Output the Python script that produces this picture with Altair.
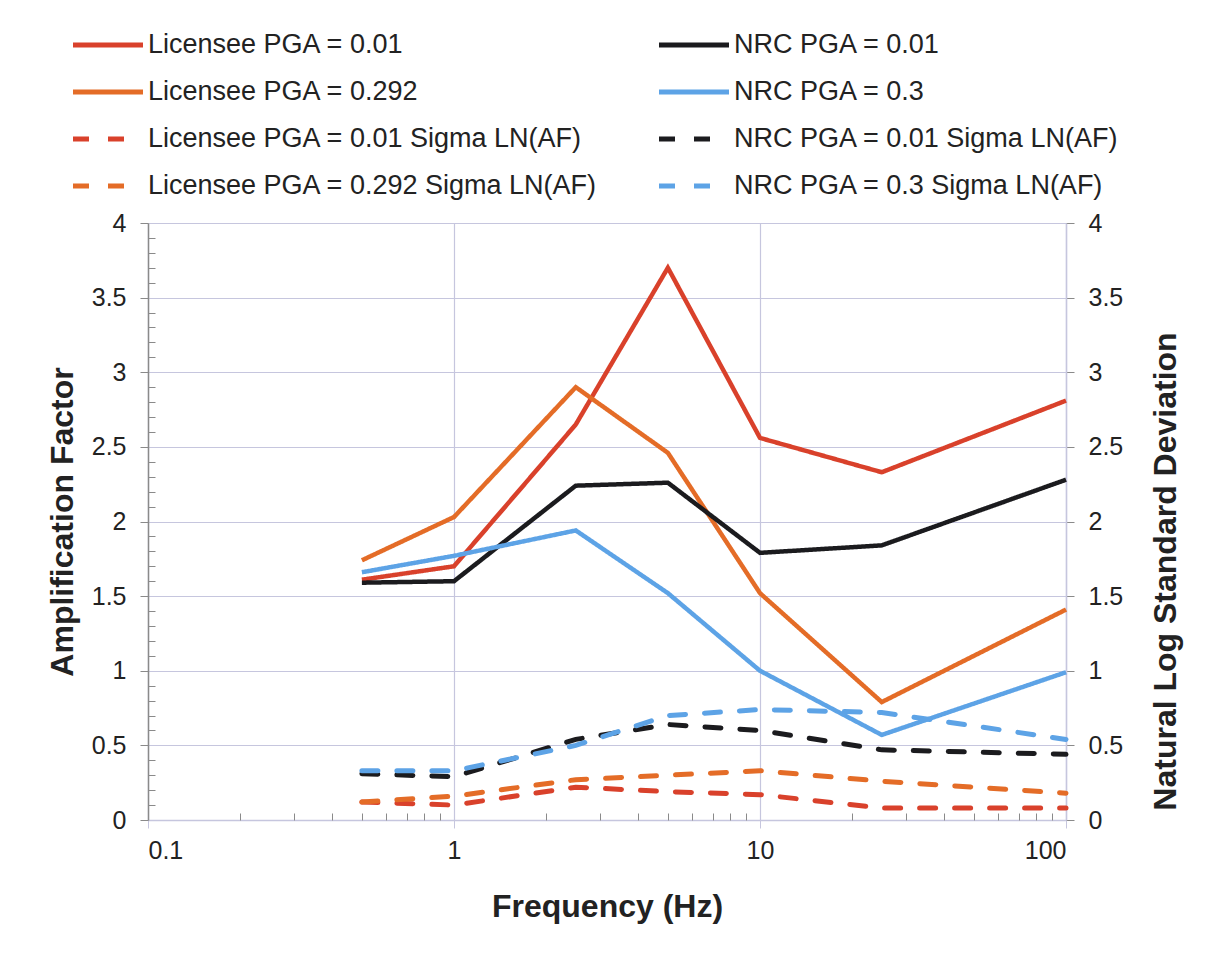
import altair as alt
import pandas as pd

freq = [0.5, 1, 2.5, 5, 10, 25, 100]

lic_001 = [1.61, 1.70, 2.65, 3.70, 2.56, 2.33, 2.81]
lic_0292 = [1.74, 2.03, 2.90, 2.46, 1.52, 0.79, 1.41]
nrc_001 = [1.59, 1.60, 2.24, 2.26, 1.79, 1.84, 2.28]
nrc_03 = [1.66, 1.77, 1.94, 1.52, 1.00, 0.57, 0.99]

lic_001_sig = [0.12, 0.10, 0.22, 0.19, 0.17, 0.08, 0.08]
lic_0292_sig = [0.12, 0.16, 0.27, 0.30, 0.33, 0.26, 0.18]
nrc_001_sig = [0.31, 0.29, 0.54, 0.64, 0.60, 0.47, 0.44]
nrc_03_sig = [0.33, 0.33, 0.50, 0.70, 0.74, 0.72, 0.54]

# legend order (column-major: left column first, then right column)
names = [
    "Licensee PGA = 0.01",
    "Licensee PGA = 0.292",
    "Licensee PGA = 0.01 Sigma LN(AF)",
    "Licensee PGA = 0.292 Sigma LN(AF)",
    "NRC PGA = 0.01",
    "NRC PGA = 0.3",
    "NRC PGA = 0.01 Sigma LN(AF)",
    "NRC PGA = 0.3 Sigma LN(AF)",
]
colors = ["#D9412B", "#E46C27", "#D9412B", "#E46C27",
          "#1B1B1E", "#5DA3E6", "#1B1B1E", "#5DA3E6"]
dashes = [[1, 0], [1, 0], [16, 19], [16, 19],
          [1, 0], [1, 0], [16, 19], [16, 19]]

solid_series = {
    names[0]: lic_001,
    names[1]: lic_0292,
    names[4]: nrc_001,
    names[5]: nrc_03,
}
sigma_series = {
    names[2]: lic_001_sig,
    names[3]: lic_0292_sig,
    names[6]: nrc_001_sig,
    names[7]: nrc_03_sig,
}

def to_long(d):
    rows = []
    for k, vals in d.items():
        for f, v in zip(freq, vals):
            rows.append({"series": k, "freq": f, "value": v})
    return pd.DataFrame(rows)

solid_df = to_long(solid_series)
sigma_df = to_long(sigma_series)

major_x = [0.1, 1, 10, 100]
minor_x = [m * d for d in [0.1, 1, 10] for m in range(2, 10)]
major_y = [0, 0.5, 1, 1.5, 2, 2.5, 3, 3.5, 4]
minor_y = [round(i / 10, 1) for i in range(1, 40) if i % 5 != 0]

FONT = "Liberation Sans"
GRID = "#C6C6DE"
AXIS_GRAY = "#8A8A8A"

xscale = alt.Scale(type="log", domain=[0.1, 100])
yscale = alt.Scale(domain=[0, 4], nice=False, zero=False)

def legend():
    return alt.Legend(
        orient="none", legendX=-60, legendY=-198, columns=2,
        columnPadding=51, rowPadding=14, symbolType="M-2,0H2",
        symbolSize=1225, symbolStrokeWidth=5, labelFontSize=27,
        labelFont=FONT, labelColor="#222222", labelOffset=20, padding=0,
        labelLimit=700,
    )

color_enc = alt.Color(
    "series:N",
    scale=alt.Scale(domain=names, range=colors),
    title=None,
    legend=legend(),
)
dash_enc = alt.StrokeDash(
    "series:N",
    scale=alt.Scale(domain=names, range=dashes),
    title=None,
    legend=legend(),
)

solid = alt.Chart(solid_df).mark_line(strokeWidth=4.5, strokeJoin="miter").encode(
    x=alt.X("freq:Q", scale=xscale, axis=alt.Axis(
        orient="bottom", values=major_x, format="~g", grid=True, gridColor=GRID,
        gridWidth=1.2, domainColor=GRID, domainWidth=1.5, tickColor=GRID,
        tickSize=8, labelFontSize=25, labelFont=FONT, labelColor="#222222",
        labelPadding=10, title="Frequency (Hz)", titleFontSize=32,
        titleFont=FONT, titleFontWeight="bold", titleColor="#222222",
        titlePadding=28,
    )),
    y=alt.Y("value:Q", scale=yscale, axis=alt.Axis(
        orient="left", values=major_y, format="~g", grid=True, gridColor=GRID,
        gridWidth=1.2, domainColor=AXIS_GRAY, domainWidth=1.5,
        tickColor=AXIS_GRAY, tickSize=8, labelFontSize=25, labelFont=FONT,
        labelColor="#222222", labelPadding=14, title="Amplification Factor",
        titleFontSize=32, titleFont=FONT, titleFontWeight="bold",
        titleColor="#222222", titlePadding=12,
    )),
    color=color_enc,
    strokeDash=dash_enc,
    order=alt.Order("freq:Q"),
)

sigma = alt.Chart(sigma_df).mark_line(strokeWidth=5, strokeCap="round").encode(
    x=alt.X("freq:Q", scale=xscale, axis=None),
    y=alt.Y("value:Q", scale=yscale, axis=alt.Axis(
        orient="right", values=major_y, format="~g", grid=False,
        domainColor=GRID, domainWidth=1.5, tickColor=AXIS_GRAY, tickSize=8,
        labelFontSize=25, labelFont=FONT, labelColor="#222222", labelPadding=14,
        title="Natural Log Standard Deviation", titleFontSize=32, titleFont=FONT,
        titleFontWeight="bold", titleColor="#222222", titlePadding=28,
        titleAngle=270, titleBaseline="top", titleAlign="center", titleY=348,
    )),
    color=color_enc,
    strokeDash=dash_enc,
    order=alt.Order("freq:Q"),
)

minor = alt.Chart(solid_df).mark_line(opacity=0).encode(
    x=alt.X("freq:Q", scale=xscale, axis=alt.Axis(
        orient="bottom", values=minor_x, labels=False, domain=False, grid=False,
        offset=-7, tickSize=7, tickColor=AXIS_GRAY, title=None,
    )),
    y=alt.Y("value:Q", scale=yscale, axis=alt.Axis(
        orient="left", values=minor_y, labels=False, domain=False, grid=False,
        offset=-7, tickSize=7, tickColor=AXIS_GRAY, title=None,
    )),
    detail="series:N",
)

chart = alt.layer(solid, sigma, minor).resolve_scale(
    y="independent"
).resolve_axis(
    x="independent", y="independent"
).properties(
    width=918, height=597,
    autosize=alt.AutoSizeParams(type="none"),
    padding={"left": 140, "top": 215, "right": 134, "bottom": 126},
).configure_view(stroke=None).configure(background="white")

chart.save("out.html", embed_options={"renderer": "svg", "actions": False})
